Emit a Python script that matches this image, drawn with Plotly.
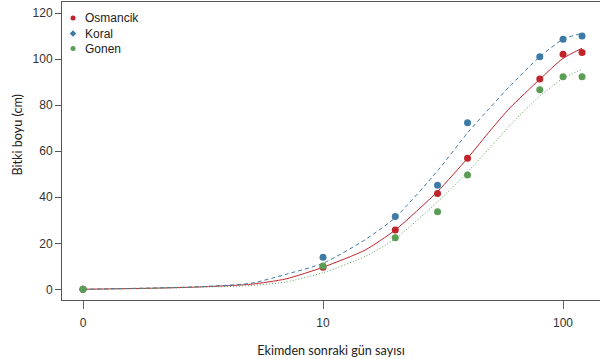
import plotly.graph_objects as go

# Observed plant heights (cm) by days after sowing
days = [0, 10, 20, 30, 40, 80, 100, 120]
osmancik = [0, 9.6, 25.8, 41.7, 57.0, 91.4, 102.2, 102.9]
koral = [0, 13.9, 31.7, 45.2, 72.4, 101.1, 108.7, 110.1]
gonen = [0, 10.1, 22.4, 33.7, 49.7, 86.7, 92.4, 92.4]

# Fitted growth curves
fit_days = [0, 2, 3, 5, 7, 10, 15, 20, 30, 40, 50, 60, 80, 100, 120]
osmancik_fit = [0, 0.5, 1.0, 2.2, 4.5, 9.6, 17.1, 25.8, 42.5, 57.0, 69.3, 78.8, 91.3, 100.4, 104.8]
koral_fit = [0, 0.6, 1.1, 2.6, 6.5, 11.3, 21.6, 31.2, 51.5, 68.0, 79.3, 88.3, 101.1, 108.7, 111.3]
gonen_fit = [0, 0.4, 0.9, 1.6, 3.2, 7.2, 14.3, 22.0, 38.0, 51.0, 62.0, 71.2, 84.0, 91.7, 95.6]

x_tick_vals = [1, 10, 100]
x_tick_text = ["0", "10", "100"]
y_tick_vals = [0, 20, 40, 60, 80, 100, 120]

RED = "#C1232B"
BLUE = "#3D7AA6"
GREEN = "#5A9E55"


def on_log_axis(values):
    # day 0 sits at the first decade mark of the log axis
    return [v if v > 0 else 1 for v in values]


series = [
    ("Osmancik", osmancik, osmancik_fit, RED, "solid", "circle"),
    ("Koral", koral, koral_fit, BLUE, "4px,3px", "diamond"),
    ("Gonen", gonen, gonen_fit, GREEN, "1px,2px", "circle"),
]

fig = go.Figure()
for name, obs, fit, color, dash, sym in series:
    fig.add_trace(go.Scatter(
        x=on_log_axis(fit_days), y=fit, mode="lines",
        line=dict(color=color, width=1, dash=dash, shape="spline", smoothing=0.6),
        showlegend=False, hoverinfo="skip",
    ))
for name, obs, fit, color, dash, sym in series:
    fig.add_trace(go.Scatter(
        x=on_log_axis(days), y=obs, mode="markers",
        marker=dict(color=color, size=7, symbol="circle"),
        showlegend=False, name=name,
    ))

# Key in the top-left corner, laid out on a pixel-based overlay axis pair
key_x = 73
key_text_x = 83
key_rows = [18, 33.5, 48.5]
fig.add_trace(go.Scatter(
    x=[key_x] * len(series), y=key_rows, mode="markers",
    marker=dict(color=[s[3] for s in series], symbol=[s[5] for s in series], size=5),
    xaxis="x2", yaxis="y2", showlegend=False, hoverinfo="skip",
))
for (name, *_), row in zip(series, key_rows):
    fig.add_annotation(
        x=key_text_x, y=row, xref="x2", yref="y2", text=name, showarrow=False,
        xanchor="left", yanchor="middle",
        font=dict(family="Liberation Sans, Arial, sans-serif", size=12, color="#222222"),
    )

axis_font = dict(family="Liberation Sans, Arial, sans-serif", size=12, color="#333333")
title_font = dict(family="Lato, Open Sans, sans-serif", size=12.6, color="#222222")

fig.add_annotation(
    x=-0.082, y=0.555, xref="paper", yref="paper", text="Bitki boyu (cm)",
    textangle=-90, showarrow=False, xanchor="center", yanchor="middle", font=title_font,
)

fig.update_layout(
    width=600, height=359,
    margin=dict(l=62, r=0, t=2, b=59),
    paper_bgcolor="white", plot_bgcolor="white",
    showlegend=False,
    xaxis=dict(
        type="log", range=[-0.0875, 2.154],
        tickvals=x_tick_vals, ticktext=x_tick_text,
        ticks="outside", ticklen=8, tickcolor="#666666", tickwidth=1,
        showline=True, linecolor="#555555", linewidth=1, mirror=True,
        showgrid=False, zeroline=False, tickfont=axis_font,
        ticklabelstandoff=4,
        title=dict(text="Ekimden sonraki gün sayısı", font=title_font, standoff=16),
    ),
    yaxis=dict(
        range=[-4.65, 124.9],
        tickvals=y_tick_vals,
        ticks="outside", ticklen=6, tickcolor="#555555", tickwidth=1,
        showline=True, linecolor="#555555", linewidth=1,
        showgrid=False, zeroline=False, tickfont=axis_font,
    ),
    xaxis2=dict(range=[62, 600], overlaying="x", anchor="y2", visible=False,
                fixedrange=True),
    yaxis2=dict(range=[300, 2], overlaying="y", anchor="x2", visible=False,
                fixedrange=True),
)

fig.write_html("out.html")
